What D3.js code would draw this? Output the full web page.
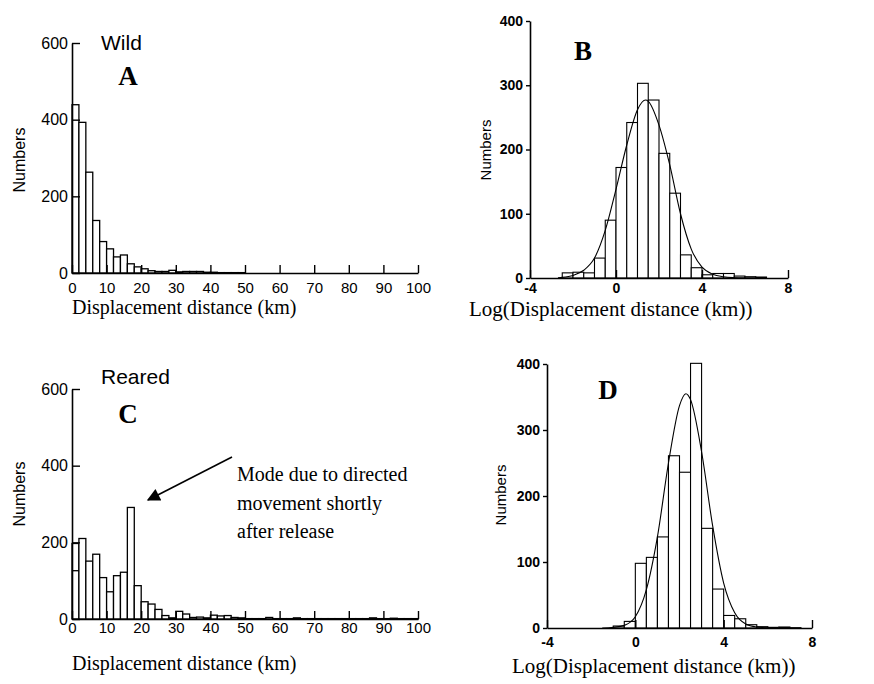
<!DOCTYPE html>
<html>
<head>
<meta charset="utf-8">
<script src="https://cdn.jsdelivr.net/npm/d3@7"></script>
<style>
  body { margin: 0; background: #fff; }
  svg { display: block; }
</style>
</head>
<body>
<svg id="chart"></svg>
<script>
const width = 874, height = 684;

// Raw displacement histograms: 2 km bins from 0 to 100 km
const distanceTicks = [0, 10, 20, 30, 40, 50, 60, 70, 80, 90, 100];
const countTicks = [0, 200, 400, 600];
const distanceBinStarts = d3.range(0, 100, 2);
const wildCounts = [439, 393, 263, 137, 82, 63, 42, 47, 24, 16,
                    11, 6, 4, 4, 7, 3, 4, 4, 4, 2,
                    2, 1, 1, 1, 1, 0, 0, 0, 0, 0,
                    0, 0, 0, 0, 0, 0, 0, 0, 0, 0,
                    0, 0, 0, 0, 0, 0, 0, 0, 0, 0];
const rearedCounts = [197, 210, 151, 169, 108, 71, 113, 122, 291, 87,
                      45, 39, 25, 9, 3, 20, 13, 4, 5, 3,
                      10, 8, 9, 4, 3, 1, 1, 1, 4, 1,
                      1, 1, 3, 1, 1, 1, 1, 1, 1, 1,
                      1, 1, 1, 3, 1, 1, 2, 1, 1, 1];
// inner outline seen in the first reared bin
const rearedInner = [126];

// Log-transformed histograms: 0.5 bins
const logTicks = [-4, 0, 4, 8];
const logCountTicks = [0, 100, 200, 300, 400];
const wildLogStarts = [-2.5, -2, -1.5, -1, -0.5, 0, 0.5, 1, 1.5, 2, 2.5, 3, 3.5, 4, 4.5, 5, 5.5, 6, 6.5];
const wildLogCounts = [8, 9, 8, 31, 90, 172, 242, 303, 277, 194, 132, 36, 16, 5, 7, 7, 3, 2, 1.5];
const wildFitX = [-2.7, -2.5, -2, -1.5, -1, -0.5, 0, 0.5, 1, 1.38, 1.5, 2, 2.5, 3, 3.5, 4, 4.5, 5, 5.5, 6];
const wildFitY = [0.5, 1, 4, 12, 31, 74, 138, 207, 262, 277, 275, 238, 176, 100, 45, 17, 6, 2, 0.5, 0];

const rearedLogStarts = [-1, -0.5, 0, 0.5, 1, 1.5, 2, 2.5, 3, 3.5, 4, 4.5, 5, 5.5, 6, 6.5, 7];
const rearedLogCounts = [3, 10, 98, 107, 138, 261, 236, 401, 151, 59, 19, 14, 5, 2, 1, 1.5, 0.5];
const rearedFitX = [-1.5, -1, -0.5, 0, 0.5, 1, 1.5, 2, 2.29, 2.5, 3, 3.5, 4, 4.5, 5, 5.5, 6];
const rearedFitY = [0, 1, 4, 17, 58, 138, 250, 337, 355, 346, 267, 155, 68, 23, 6, 1.5, 0.3];

const svg = d3.select("#chart")
    .attr("width", width)
    .attr("height", height);

const sans = "'Liberation Sans', Arial, sans-serif";
const serif = "'Liberation Serif', 'Times New Roman', serif";

function drawPanel(p) {
    const g = svg.append("g");
    const x = d3.scaleLinear().domain(p.xDomain).range([p.left, p.right]);
    const y = d3.scaleLinear().domain(p.yDomain).range([p.bottom, p.top]);

    const bins = p.starts.map((s, i) => ({ x0: s, x1: s + p.binWidth, n: p.counts[i] }));

    g.selectAll("rect.bar")
        .data(bins)
        .join("rect")
        .attr("class", "bar")
        .attr("x", d => x(d.x0))
        .attr("width", d => x(d.x1) - x(d.x0))
        .attr("y", d => y(d.n))
        .attr("height", d => y(0) - y(d.n))
        .attr("fill", "#fff")
        .attr("stroke", "#000")
        .attr("stroke-width", p.barStroke);

    if (p.inner) {
        g.selectAll("line.inner")
            .data(p.inner)
            .join("line")
            .attr("x1", x(bins[0].x0))
            .attr("x2", x(bins[0].x1))
            .attr("y1", d => y(d))
            .attr("y2", d => y(d))
            .attr("stroke", "#000")
            .attr("stroke-width", p.barStroke);
    }

    if (p.fitX) {
        const line = d3.line()
            .x(d => x(d[0]))
            .y(d => y(d[1]))
            .curve(d3.curveMonotoneX);
        g.append("path")
            .datum(p.fitX.map((v, i) => [v, p.fitY[i]]))
            .attr("d", line)
            .attr("fill", "none")
            .attr("stroke", "#000")
            .attr("stroke-width", 1.1);
    }

    // axes (plain hyphen for negative labels, as in the original)
    const xAxis = g.append("g")
        .attr("transform", `translate(0,${p.bottom})`)
        .call(d3.axisBottom(x).tickValues(p.xTicks).tickFormat(d => String(d))
            .tickSizeInner(-8).tickSizeOuter(0).tickPadding(p.xPad));
    const yAxis = g.append("g")
        .attr("transform", `translate(${p.left},0)`)
        .call(d3.axisLeft(y).tickValues(p.yTicks).tickFormat(d => String(d))
            .tickSizeInner(p.yTickSize).tickSizeOuter(0).tickPadding(p.yPad));

    [xAxis, yAxis].forEach(a => {
        a.select(".domain").attr("stroke", "#000").attr("stroke-width", 1.6);
        a.selectAll(".tick line").attr("stroke", "#000").attr("stroke-width", 1.4);
        a.selectAll(".tick text")
            .attr("fill", "#000")
            .style("font-family", sans)
            .style("font-weight", p.tickWeight);
    });
    xAxis.selectAll(".tick text").style("font-size", p.xFont + "px");
    yAxis.selectAll(".tick text").style("font-size", p.yFont + "px");

    // y label
    g.append("text")
        .attr("transform", `translate(${p.ylabX},${p.ylabY}) rotate(-90)`)
        .attr("text-anchor", "middle")
        .attr("dominant-baseline", "central")
        .style("font-family", sans)
        .style("font-size", p.ylabFont + "px")
        .text("Numbers");

    // x label
    g.append("text")
        .attr("x", p.xlabX)
        .attr("y", p.xlabY)
        .style("font-family", serif)
        .style("font-size", p.xlabFont + "px")
        .text(p.xlab);

    // panel letter
    g.append("text")
        .attr("x", p.letterX)
        .attr("y", p.letterY)
        .attr("text-anchor", "middle")
        .style("font-family", serif)
        .style("font-weight", "bold")
        .style("font-size", "27px")
        .text(p.letter);

    if (p.group) {
        g.append("text")
            .attr("x", p.groupX)
            .attr("y", p.groupY)
            .style("font-family", sans)
            .style("font-size", "21px")
            .text(p.group);
    }
}

drawPanel({
    left: 72, right: 418, bottom: 273, top: 43,
    xDomain: [0, 100], yDomain: [0, 600],
    starts: distanceBinStarts, binWidth: 2, counts: wildCounts, barStroke: 1.3,
    xTicks: distanceTicks, yTicks: countTicks,
    xPad: 9, yPad: 4, yTickSize: -8, xFont: 15, yFont: 16, tickWeight: "normal",
    ylabX: 19, ylabY: 160, ylabFont: 16,
    xlab: "Displacement distance (km)", xlabX: 72, xlabY: 314, xlabFont: 20,
    letter: "A", letterX: 128, letterY: 85,
    group: "Wild", groupX: 101, groupY: 50
});

drawPanel({
    left: 530, right: 788, bottom: 278, top: 21,
    xDomain: [-4, 8], yDomain: [0, 400],
    starts: wildLogStarts, binWidth: 0.5, counts: wildLogCounts, barStroke: 1.1,
    fitX: wildFitX, fitY: wildFitY,
    xTicks: logTicks, yTicks: logCountTicks,
    xPad: 5, yPad: 3, yTickSize: 4, xFont: 14, yFont: 14, tickWeight: "bold",
    ylabX: 485, ylabY: 150, ylabFont: 15,
    xlab: "Log(Displacement distance (km))", xlabX: 469, xlabY: 316, xlabFont: 21,
    letter: "B", letterX: 583, letterY: 60
});

drawPanel({
    left: 72, right: 418, bottom: 619, top: 389,
    xDomain: [0, 100], yDomain: [0, 600],
    starts: distanceBinStarts, binWidth: 2, counts: rearedCounts, barStroke: 1.3,
    inner: rearedInner,
    xTicks: distanceTicks, yTicks: countTicks,
    xPad: 3, yPad: 4, yTickSize: -8, xFont: 15, yFont: 16, tickWeight: "normal",
    ylabX: 19, ylabY: 494, ylabFont: 16,
    xlab: "Displacement distance (km)", xlabX: 72, xlabY: 670, xlabFont: 20,
    letter: "C", letterX: 128, letterY: 423,
    group: "Reared", groupX: 101, groupY: 384
});

drawPanel({
    left: 547, right: 812, bottom: 628, top: 364,
    xDomain: [-4, 8], yDomain: [0, 400],
    starts: rearedLogStarts, binWidth: 0.5, counts: rearedLogCounts, barStroke: 1.1,
    fitX: rearedFitX, fitY: rearedFitY,
    xTicks: logTicks, yTicks: logCountTicks,
    xPad: 9, yPad: 3, yTickSize: 4, xFont: 14, yFont: 14, tickWeight: "bold",
    ylabX: 500, ylabY: 495, ylabFont: 15,
    xlab: "Log(Displacement distance (km))", xlabX: 512, xlabY: 673, xlabFont: 21,
    letter: "D", letterX: 608, letterY: 399
});

// annotation in panel C
svg.append("defs").append("marker")
    .attr("id", "arrowhead")
    .attr("viewBox", "0 0 10 10")
    .attr("refX", 9).attr("refY", 5)
    .attr("markerWidth", 17).attr("markerHeight", 13)
    .attr("markerUnits", "userSpaceOnUse")
    .attr("orient", "auto")
    .append("path")
    .attr("d", "M0,0 L10,5 L0,10 Z")
    .attr("fill", "#000");

svg.append("line")
    .attr("x1", 232).attr("y1", 457)
    .attr("x2", 148).attr("y2", 500)
    .attr("stroke", "#000")
    .attr("stroke-width", 1.6)
    .attr("marker-end", "url(#arrowhead)");

const note = ["Mode due to directed", "movement shortly", "after release"];
svg.append("text")
    .style("font-family", serif)
    .style("font-size", "20px")
    .selectAll("tspan")
    .data(note)
    .join("tspan")
    .attr("x", 237)
    .attr("y", (d, i) => 481 + i * 28.5)
    .text(d => d);
</script>
</body>
</html>
